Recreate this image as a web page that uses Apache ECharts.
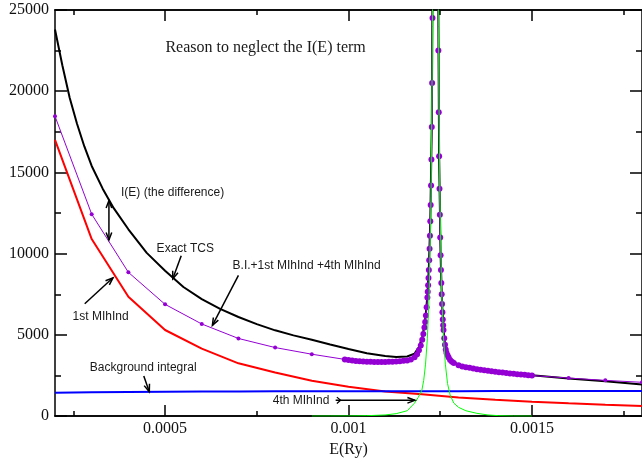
<!DOCTYPE html>
<html><head><meta charset="utf-8">
<script src="https://cdn.jsdelivr.net/npm/echarts@6/dist/echarts.min.js"></script>
<style>html,body{margin:0;padding:0;background:#fff}#c{width:642px;height:463px}</style>
</head><body><div id="c"></div>
<script>
// ---- tick values ----
const xMajorTicks = [0.0005, 0.001, 0.0015];
const xMinorTicks = [0.00025, 0.00075, 0.00125, 0.00175];

// ---- Exact TCS (black) ----
const blackE = [0.0002,0.00022,0.00024,0.00026,0.00028,0.0003,0.00033,0.00036,0.0004,0.00045,0.0005,0.00055,0.0006,0.00065,0.0007,0.00075,0.0008,0.00085,0.0009,0.00095,0.001,0.00105,0.0011,0.00113,0.00116,0.00118,0.001192,0.001201,0.001207,0.001211,0.001215,0.001219,0.001223,0.001227,0.00123,0.001237,0.001244,0.001247,0.001251,0.001255,0.001259,0.001263,0.001267,0.001273,0.001282,0.0013,0.00135,0.0014,0.0015,0.0016,0.0017,0.0018];
const blackV = [23800,21600,19600,18000,16600,15400,14000,12800,11500,10050,8950,7950,7200,6600,6100,5660,5280,4970,4700,4410,4130,3870,3700,3640,3670,3850,4250,4870,5600,6340,7430,9120,12100,17880,30560,250000,28530,16030,9930,6930,5330,4430,3930,3640,3380,3170,2930,2760,2510,2310,2140,1940];

// ---- B.I.+1st MIhInd+4th MIhInd (purple) ----
const purpleE = [0.0002,0.0003,0.0004,0.0005,0.0006,0.0007,0.0008,0.0009,
  0.00099,0.001,0.00101,0.00102,0.00103,0.00104,0.00105,0.00106,0.00107,0.00108,0.00109,0.0011,0.00111,0.00112,0.00113,0.00114,0.00115,0.00116,0.00117,
  0.00118,0.001187,0.001192,0.001197,0.001201,0.001204,0.001207,0.001209,0.001211,0.001213,
  0.001215,0.001216,0.001217,0.001218,0.001219,0.00122,0.001221,0.001222,0.001223,0.001224,0.001225,0.001226,0.001227,0.001228,0.001229,0.00123,0.001231,
  0.001237,
  0.001243,0.001244,0.001245,0.001246,0.001247,0.001248,0.001249,0.00125,0.001251,0.001252,0.001253,0.001254,0.001255,0.001256,0.001257,0.001258,0.001259,
  0.001261,0.001263,0.001265,0.001267,0.00127,0.001273,0.001277,0.001282,0.001287,
  0.0013,0.00131,0.00132,0.00133,0.00134,0.00135,0.00136,0.00137,0.00138,0.00139,0.0014,0.00141,0.00142,0.00143,0.00144,0.00145,0.00146,0.00147,0.00148,0.00149,0.0015,
  0.0016,0.0017,0.0018];
const purpleV = [18460,12430,8850,6880,5670,4780,4220,3810,
  3490,3450,3420,3395,3375,3360,3350,3340,3335,3330,3330,3335,3340,3350,3365,3380,3400,3430,3480,
  3620,3800,4050,4350,4700,5050,5450,5800,6200,6700,
  7300,7650,8050,8500,9000,9600,10300,11100,12000,13000,14200,15800,17800,20500,24500,30500,40000,
  250000,
  38000,28500,22500,18700,16000,14000,12400,11000,9900,9000,8200,7500,6900,6400,5950,5600,5300,
  4800,4400,4100,3900,3750,3600,3450,3340,3270,
  3130,3060,3010,2970,2930,2890,2855,2820,2790,2760,2730,2705,2680,2655,2630,2605,2580,2560,2540,2520,2500,
  2340,2200,2080];
// the densely sampled stretch of the purple curve
const purpleDenseRange = [0.00099, 0.0015];

// ---- 1st MIhInd (red) ----
const redE = [0.0002,0.0003,0.0004,0.0005,0.0006,0.0007,0.0008,0.0009,0.001,0.0011,0.0012,0.0013,0.0014,0.0015,0.0016,0.0017,0.0018];
const redV = [17000,10900,7350,5300,4150,3250,2680,2180,1800,1510,1340,1150,1010,890,790,700,620];

// ---- Background integral (blue) ----
const blueE = [0.0002,0.0003,0.0004,0.0005,0.0006,0.0007,0.0008,0.0009,0.001,0.0011,0.0012,0.0013,0.0014,0.0015,0.0016,0.0017,0.0018];
const blueV = [1430,1465,1490,1505,1515,1520,1525,1528,1530,1532,1534,1536,1538,1540,1542,1544,1545];

// ---- 4th MIhInd (green) ----
const greenE = [0.0009,0.00095,0.001,0.00105,0.0011,0.00113,0.00116,0.00118,0.00119,0.0012,0.001205,0.00121,0.001215,0.00122,0.001225,0.001229,0.001232,0.001237,0.001242,0.001245,0.001249,0.001254,0.001259,0.001264,0.00127,0.001277,0.001287,0.0013,0.00132,0.00135,0.00138,0.00141,0.00145,0.0015];
const greenV = [0,5,10,25,70,150,330,800,1150,1600,2200,3200,4800,7600,13500,24000,45000,200000,45000,24000,13500,7600,4800,3200,2000,1300,800,540,330,170,70,25,5,0];

const zip = (E, V) => E.map((e, i) => [e, V[i]]);

const chart = echarts.init(document.getElementById('c'), null, {renderer: 'canvas'});
const serif = '"Liberation Serif", "Times New Roman", serif';
const sans = '"Liberation Sans", Arial, sans-serif';
const axisLine = {show: true, lineStyle: {color: '#000', width: 1.5}};
const xMin = 0.0002, xMax = 0.0018;

function xAx(pos, ticks, len, labels, extra) {
  return Object.assign({
    type: 'value', position: pos, min: xMin, max: xMax,
    axisLine: labels !== null ? axisLine : {show: false},
    axisTick: {show: true, inside: true, length: len, customValues: ticks, lineStyle: {color: '#000', width: 1.5}},
    axisLabel: labels ? {show: true, customValues: labels, color: '#111', fontFamily: serif, fontSize: 16, margin: 5} : {show: false},
    splitLine: {show: false}
  }, extra || {});
}

const purpleData = purpleE.map((e, i) => ({
  value: [e, purpleV[i]],
  symbolSize: (e >= purpleDenseRange[0] && e <= purpleDenseRange[1]) ? 6 : 4
}));

const option = {
  animation: false,
  backgroundColor: '#fff',
  grid: {left: 55, top: 10, width: 590, height: 412, containLabel: false},
  xAxis: [
    xAx('bottom', xMajorTicks, 11, xMajorTicks, {name: 'E(Ry)', nameLocation: 'middle', nameGap: 19,
      nameTextStyle: {fontFamily: serif, fontSize: 16, color: '#111'}}),
    xAx('bottom', xMinorTicks, 5, undefined),
    xAx('top', xMajorTicks, 11, undefined),
    xAx('top', xMinorTicks, 5, undefined)
  ],
  yAxis: [
    {type: 'value', position: 'left', min: 0, max: 25000, interval: 5000,
     axisLine: axisLine,
     axisTick: {show: true, inside: true, length: 12, lineStyle: {color: '#000', width: 1.5}},
     minorTick: {show: true, splitNumber: 2, length: 6, lineStyle: {color: '#000', width: 1.5}},
     axisLabel: {color: '#111', fontFamily: serif, fontSize: 16, margin: 6, formatter: v => String(v)},
     splitLine: {show: false}},
    {type: 'value', position: 'right', min: 0, max: 25000, interval: 5000,
     axisLine: axisLine,
     axisTick: {show: true, inside: true, length: 12, lineStyle: {color: '#000', width: 1.5}},
     minorTick: {show: true, splitNumber: 2, length: 6, lineStyle: {color: '#000', width: 1.5}},
     axisLabel: {show: false},
     splitLine: {show: false}}
  ],
  series: [
    {name: 'Exact TCS', type: 'line', data: zip(blackE, blackV), showSymbol: false, clip: true,
     lineStyle: {color: '#000', width: 2}, z: 2},
    {name: 'B.I.+1st MIhInd +4th MIhInd', type: 'line', data: purpleData, clip: true,
     symbol: 'circle', itemStyle: {color: '#9400d3'},
     lineStyle: {color: '#9400d3', width: 1}, z: 3},
    {name: '1st MIhInd', type: 'line', data: zip(redE, redV), showSymbol: false, clip: true,
     lineStyle: {color: '#ff0000', width: 2}, z: 4},
    {name: 'Background integral', type: 'line', data: zip(blueE, blueV), showSymbol: false, clip: true,
     lineStyle: {color: '#0000ff', width: 2}, z: 5},
    {name: '4th MIhInd', type: 'line', data: zip(greenE, greenV), showSymbol: false, clip: true,
     lineStyle: {color: '#00ff00', width: 1}, z: 6}
  ]
};
chart.setOption(option);

// ---- annotations (anchored in data coordinates) ----
const notes = [
  {text: 'Reason to neglect the I(E) term', at: [0.000501, 22694], font: '16px ' + serif, align: 'left'},
  {text: 'I(E) (the difference)', at: [0.00038, 13774], font: '12px ' + sans, align: 'left'},
  {text: 'Exact TCS', at: [0.000477, 10334], font: '12px ' + sans, align: 'left'},
  {text: 'B.I.+1st MIhInd +4th MIhInd', at: [0.000684, 9266], font: '12px ' + sans, align: 'left'},
  {text: '1st MIhInd', at: [0.000248, 6147], font: '12px ' + sans, align: 'left'},
  {text: 'Background integral', at: [0.000295, 2992], font: '12px ' + sans, align: 'left'},
  {text: '4th MIhInd', at: [0.000948, 971], font: '12px ' + sans, align: 'right'}
];
const arrows = [
  {from: [0.000347, 13271], to: [0.000347, 10844], both: true},
  {from: [0.000544, 9873], to: [0.000521, 8453]},
  {from: [0.0007, 8659], to: [0.000629, 5583]},
  {from: [0.000281, 6918], to: [0.000358, 8513]},
  {from: [0.000442, 2470], to: [0.000457, 1499]},
  {from: [0.000965, 971], to: [0.001181, 971], tailGt: true}
];

const px = p => chart.convertToPixel({gridIndex: 0}, p);
function head(tip, from, len, ang) {
  const dx = tip[0] - from[0], dy = tip[1] - from[1];
  const L = Math.hypot(dx, dy) || 1;
  const ux = dx / L, uy = dy / L;
  const c = Math.cos(ang), s = Math.sin(ang);
  const a = [tip[0] - len * (ux * c - uy * s), tip[1] - len * (uy * c + ux * s)];
  const b = [tip[0] - len * (ux * c + uy * s), tip[1] - len * (uy * c - ux * s)];
  return [a, tip, b];
}
const g = [];
notes.forEach(n => {
  const p = px(n.at);
  g.push({type: 'text', x: p[0], y: p[1], z: 100,
    style: {text: n.text, font: n.font, fill: '#1a1a1a', align: n.align, verticalAlign: 'middle'}});
});
arrows.forEach(a => {
  const f = px(a.from), t = px(a.to);
  g.push({type: 'line', z: 100, shape: {x1: f[0], y1: f[1], x2: t[0], y2: t[1]}, style: {stroke: '#000', lineWidth: 1.5}});
  g.push({type: 'polyline', z: 100, shape: {points: head(t, f, 8, 0.36)}, style: {stroke: '#000', fill: null, lineWidth: 1.5}});
  if (a.both) g.push({type: 'polyline', z: 100, shape: {points: head(f, t, 8, 0.36)}, style: {stroke: '#000', fill: null, lineWidth: 1.5}});
  if (a.tailGt) {
    const tip = [f[0] + 5, f[1]];
    g.push({type: 'polyline', z: 100, shape: {points: head(tip, [f[0] - 10, f[1]], 5, 0.7)}, style: {stroke: '#000', fill: null, lineWidth: 1.2}});
  }
});
chart.setOption({graphic: g});
</script>
</body></html>
